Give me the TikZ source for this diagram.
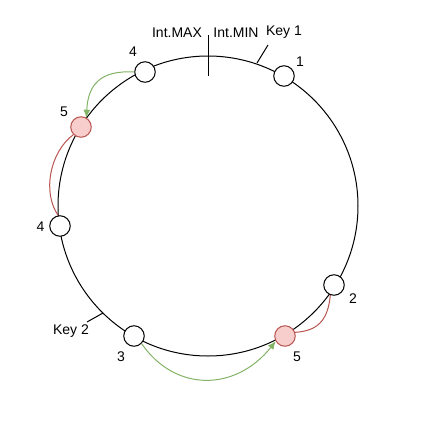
\documentclass[tikz,border=0pt]{standalone}
\usepackage{fontspec}
\setmainfont{Liberation Sans}
\usetikzlibrary{arrows.meta}
\definecolor{gstroke}{HTML}{82B366}
\definecolor{rstroke}{HTML}{B85450}
\definecolor{rfill}{HTML}{F8CECC}
\begin{document}
\begin{tikzpicture}[x=1pt,y=-1pt,
  peer/.style={circle,draw=black,fill=white,line width=1pt,minimum size=20.5pt,inner sep=0pt},
  hot/.style={peer,draw=rstroke,fill=rfill},
  lbl/.style={inner sep=0pt,font=\fontsize{14}{16}\selectfont},
  ring/.style={draw=black,line width=1pt},
  garrow/.style={draw=gstroke,line width=1pt,-{Latex[length=8pt,width=7pt]},fill=none},
  rlink/.style={draw=rstroke,line width=1pt}]
\useasboundingbox (0,0) rectangle (427,432);
% ring
\coordinate (c) at (208,206);
\draw[ring] (c) circle[radius=150];
% ticks
\coordinate (intT) at (208,35);
\coordinate (intB) at (208,76);
\coordinate (k1a) at (268,45);
\coordinate (k1b) at (257,63);
\coordinate (k2a) at (103,313);
\coordinate (k2b) at (87,322);
\draw[ring] (intT) -- (intB);
\draw[ring] (k1a) -- (k1b);
\draw[ring] (k2a) -- (k2b);
% nodes
\node[peer] (n4t) at (145,72) {};
\node[peer] (n1) at (284,76) {};
\node[hot] (n5l) at (81,127) {};
\node[peer] (n4l) at (60,226) {};
\node[peer] (n3) at (134,336) {};
\node[hot] (n5b) at (285,336) {};
\node[peer] (n2) at (334,285) {};
% labels
\node[lbl] (tmax) at (177,32.5) {Int.MAX};
\node[lbl] (tmin) at (236,32.5) {Int.MIN};
\node[lbl] (tk1) at (284,32.5) {Key 1};
\node[lbl] (l4t) at (133,52) {4};
\node[lbl] (l1) at (300,62) {1};
\node[lbl] (l5l) at (64,112) {5};
\node[lbl] (l4l) at (40.5,226.5) {4};
\node[lbl] (tk2) at (71,331.5) {Key 2};
\node[lbl] (l3) at (121,356.5) {3};
\node[lbl] (l5b) at (297,356.5) {5};
\node[lbl] (l2) at (353,299) {2};
% links
\draw[garrow] (n4t.west) .. controls (100,70) and (88,85) .. (n5l.60);
\draw[rlink] (n5l.225) .. controls (50,152) and (42,192) .. (n4l.100);
\draw[garrow] (n3.-45) .. controls (175,392) and (235,392) .. (n5b.210);
\draw[rlink] (n2.250) .. controls (328,320) and (318,331) .. (n5b.20);
\end{tikzpicture}
\end{document}
